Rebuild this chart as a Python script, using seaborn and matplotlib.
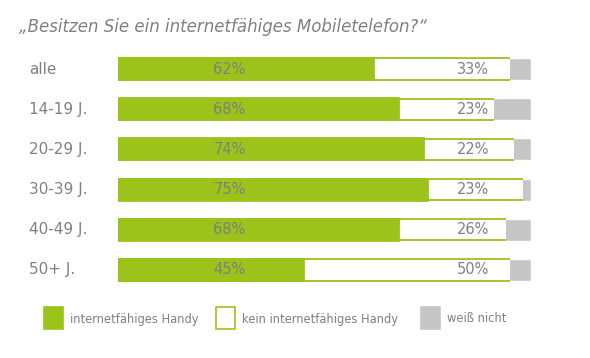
import seaborn as sns
import pandas as pd
import matplotlib.pyplot as plt
from matplotlib.patches import Rectangle

# Daten
groups = ["alle", "14-19 J.", "20-29 J.", "30-39 J.", "40-49 J.", "50+ J."]
ja = [62, 68, 74, 75, 68, 45]
nein = [33, 23, 22, 23, 26, 50]
weiss_nicht = [5, 9, 4, 2, 6, 5]
legend_labels = ["internetfähiges Handy", "kein internetfähiges Handy", "weiß nicht"]

green = "#9BC31A"
grey = "#C6C6C6"
text_grey = "#808080"

df = pd.DataFrame({"gruppe": groups, "ja": ja, "nein": nein, "wn": weiss_nicht})
df["ja_nein"] = df["ja"] + df["nein"]
df["gesamt"] = df["ja_nein"] + df["wn"]

sns.set_style("white")
plt.rcParams["font.family"] = ["DejaVu Sans"]

fig = plt.figure(figsize=(5.9, 3.58), dpi=100)
ax = fig.add_axes([0.2, 0.19, 0.7, 0.673])

# gestapelte Balken: erst gesamt (grau), dann ja+nein (weiß), dann ja (grün)
sns.barplot(data=df, x="gesamt", y="gruppe", color=grey, width=0.55,
            saturation=1, ax=ax)
sns.barplot(data=df, x="ja_nein", y="gruppe", color="white", width=0.55,
            saturation=1, linewidth=0, ax=ax)

# grüne Linien nur oben und unten am weißen Balken
for p in ax.containers[1]:
    y0, h = p.get_y(), p.get_height()
    x0, w = p.get_x(), p.get_width()
    ax.hlines([y0 + 0.01, y0 + h - 0.01], x0, x0 + w, color=green, lw=1.3)

sns.barplot(data=df, x="ja", y="gruppe", color=green, width=0.55,
            saturation=1, edgecolor=green, linewidth=1.3, ax=ax)

for i in range(len(groups)):
    ax.text(27, i, f"{ja[i]}%", ha="center", va="center",
            fontsize=10.5, color=text_grey)
    ax.text(86, i, f"{nein[i]}%", ha="center", va="center",
            fontsize=10.5, color=text_grey)

ax.set_xlim(0, 100)
ax.set_ylim(5.5, -0.5)
ax.set_xlabel("")
ax.set_ylabel("")
ax.set_xticks([])
ax.set_yticks([])
sns.despine(ax=ax, left=True, bottom=True)

# Gruppennamen links
for i, g in enumerate(groups):
    ax.text(-0.215, i, g, transform=ax.get_yaxis_transform(),
            ha="left", va="center", fontsize=11, color=text_grey)

fig.text(0.033, 0.925, "„Besitzen Sie ein internetfähiges Mobiletelefon?“",
         fontsize=12, style="italic", color=text_grey, va="center")

# Legende
W, H = 590, 358
items = [(44, green, green), (216, "white", green), (421, grey, grey)]
for (x0, fc, ec), lab in zip(items, legend_labels):
    fig.patches.append(Rectangle((x0 / W, 1 - 329 / H), 19 / W, 22 / H,
                                 transform=fig.transFigure, facecolor=fc,
                                 edgecolor=ec, linewidth=1.2))
    fig.text((x0 + 26) / W, 1 - 319 / H, lab, fontsize=8.3,
             color=text_grey, va="center")

plt.savefig("out.png", dpi=100)
